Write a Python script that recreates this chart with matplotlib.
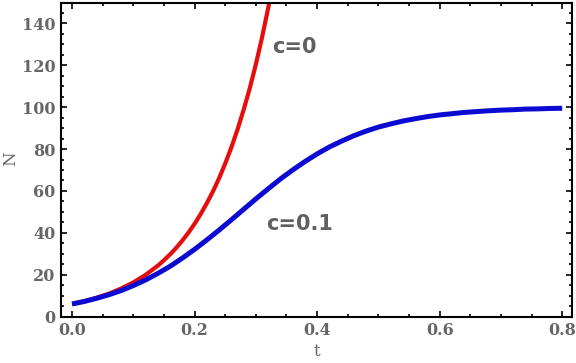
import matplotlib
matplotlib.use("Agg")
import matplotlib.pyplot as plt
from matplotlib.ticker import MultipleLocator

# values
t_red = [0.0, 0.02, 0.04, 0.06, 0.08, 0.10, 0.12, 0.14, 0.15, 0.16, 0.17,
         0.18, 0.19, 0.20, 0.21, 0.22, 0.23, 0.24, 0.25, 0.26, 0.27,
         0.28, 0.29, 0.30, 0.31, 0.32, 0.33]
n_red = [6.0, 7.3, 9.0, 10.9, 13.4, 16.3, 19.9, 24.3, 26.9, 29.7, 32.8,
         36.3, 40.1, 44.3, 49.0, 54.2, 59.8, 66.1, 73.1, 80.8, 89.3,
         98.7, 109.0, 120.5, 133.2, 147.2, 162.7]

t_blue = [0.0, 0.02, 0.04, 0.06, 0.08, 0.10, 0.12, 0.14, 0.16, 0.18, 0.20,
          0.22, 0.24, 0.26, 0.28, 0.30, 0.32, 0.34, 0.36, 0.38, 0.40,
          0.42, 0.44, 0.46, 0.48, 0.50, 0.52, 0.54, 0.56, 0.58, 0.60,
          0.62, 0.64, 0.66, 0.68, 0.70, 0.72, 0.74, 0.76, 0.78, 0.80]
n_blue = [6.0, 7.2, 8.7, 10.4, 12.4, 14.8, 17.5, 20.6, 24.0, 27.9, 32.1,
          36.6, 41.3, 46.2, 51.2, 56.2, 61.0, 65.7, 70.0, 74.0, 77.7,
          81.0, 83.8, 86.4, 88.6, 90.5, 92.0, 93.4, 94.5, 95.5, 96.3,
          96.9, 97.5, 97.9, 98.3, 98.6, 98.8, 99.1, 99.2, 99.4, 99.5]

labels = ["c=0", "c=0.1"]
label_pos = [(0.363, 129), (0.372, 44)]

fig = plt.figure(figsize=(5.76, 3.63), dpi=100)
ax = fig.add_axes([0.106, 0.128, 0.887, 0.865])

ax.plot(t_red, n_red, color="#e60d0d", lw=3.0, solid_capstyle="butt")
ax.plot(t_blue, n_blue, color="#0a0ad2", lw=3.6, solid_capstyle="butt")

for txt, (x, y) in zip(labels, label_pos):
    ax.text(x, y, txt, ha="center", va="center", fontsize=15,
            fontweight="bold", color="#606060", family="DejaVu Sans")

ax.set_xlim(-0.018, 0.816)
ax.set_ylim(0, 150)
ax.xaxis.set_major_locator(MultipleLocator(0.2))
ax.xaxis.set_minor_locator(MultipleLocator(0.05))
ax.yaxis.set_major_locator(MultipleLocator(20))
ax.yaxis.set_minor_locator(MultipleLocator(5))
ax.xaxis.set_major_formatter(plt.FuncFormatter(lambda v, p: f"{v:.1f}"))

ax.tick_params(which="both", direction="in", top=True, right=True,
               color="black", width=1.2)
ax.tick_params(which="major", length=4, labelsize=11.5, labelcolor="#666666", pad=4)
ax.tick_params(which="minor", length=2)
for lab in ax.get_xticklabels() + ax.get_yticklabels():
    lab.set_family("DejaVu Serif")
    lab.set_fontweight("bold")

for sp in ax.spines.values():
    sp.set_linewidth(1.5)

ax.set_xlabel("t", fontsize=12, color="#666666", family="DejaVu Serif", labelpad=3)
fig.text(11 / 576, 1 - 159 / 363, "N", rotation=90, ha="center", va="center",
         fontsize=12, color="#666666", family="DejaVu Serif")

fig.savefig("out.png", dpi=100)
